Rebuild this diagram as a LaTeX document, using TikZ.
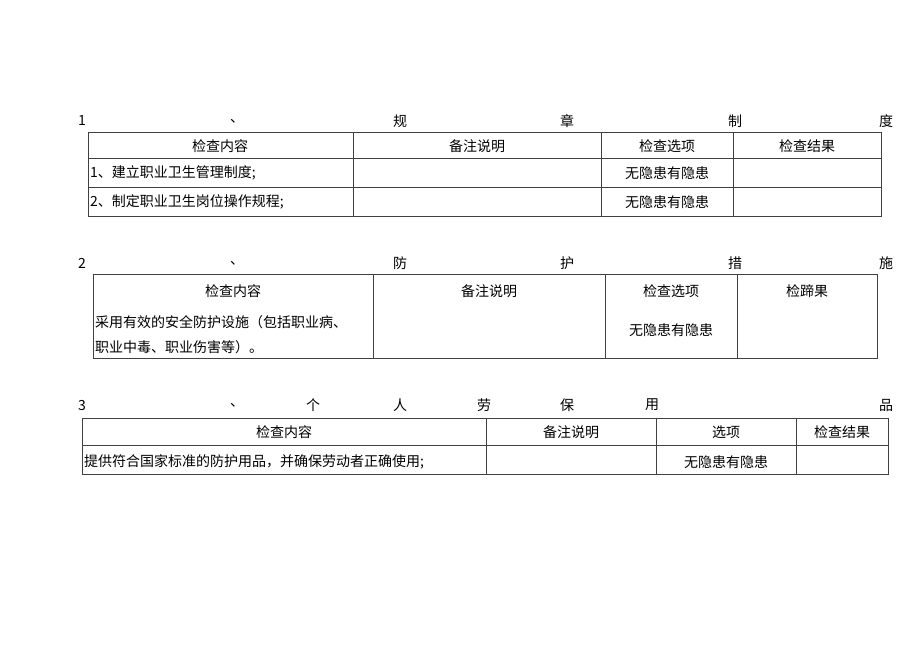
\documentclass[tikz,border=0pt]{standalone}
\usepackage{fontspec}
\setmainfont{Liberation Sans}
\newfontfamily\cjk{Noto Sans CJK SC}
\begin{document}
\begin{tikzpicture}[x=1pt,y=-1pt,
  t/.style={font=\cjk\fontsize{14}{16}\selectfont,inner sep=0pt},
  tl/.style={t,anchor=west},
  ln/.style={draw=black!75,line width=0.6pt}]
\useasboundingbox (0,0) rectangle (920,651);
% Table 1
\foreach \x/\s [count=\i] in {82/1,237/、,400/规,567/章,735/制,886/度} \node[t] (a\i) at (\x,121) {\s};
\draw[ln] (88,132) rectangle (881,216);
\draw[ln] (88,158) -- (881,158) (88,187) -- (881,187);
\draw[ln] (353,132) -- (353,216) (601,132) -- (601,216) (733,132) -- (733,216);
\node[t] (h11) at (220,146) {检查内容};
\node[t] (h12) at (477,146) {备注说明};
\node[t] (h13) at (667,146) {检查选项};
\node[t] (h14) at (807,146) {检查结果};
\node[tl] (r11) at (90,173) {1、建立职业卫生管理制度;};
\node[t] (o11) at (667,173) {无隐患有隐患};
\node[tl] (r12) at (90,202) {2、制定职业卫生岗位操作规程;};
\node[t] (o12) at (667,202) {无隐患有隐患};
% Table 2
\foreach \x/\s [count=\i] in {82/2,237/、,400/防,567/护,735/措,886/施} \node[t] (b\i) at (\x,263) {\s};
\draw[ln] (93,274) rectangle (877,358);
\draw[ln] (373,274) -- (373,358) (605,274) -- (605,358) (737,274) -- (737,358);
\node[t] (h21) at (233,291) {检查内容};
\node[t] (h22) at (489,291) {备注说明};
\node[t] (h23) at (671,291) {检查选项};
\node[t] (h24) at (807,291) {检蹄果};
\node[tl] (r21) at (95,322) {采用有效的安全防护设施（包括职业病、};
\node[tl] (r22) at (95,347) {职业中毒、职业伤害等）。};
\node[t] (o21) at (671,330) {无隐患有隐患};
% Table 3
\foreach \x/\s [count=\i] in {82/3,237/、,313/个,400/人,484/劳,567/保,652/用,886/品} \node[t] (c\i) at (\x,405) {\s};
\draw[ln] (82,418) rectangle (888,474);
\draw[ln] (82,445) -- (888,445);
\draw[ln] (486,418) -- (486,474) (656,418) -- (656,474) (796,418) -- (796,474);
\node[t] (h31) at (284,432) {检查内容};
\node[t] (h32) at (571,432) {备注说明};
\node[t] (h33) at (726,432) {选项};
\node[t] (h34) at (842,432) {检查结果};
\node[tl] (r31) at (84,462) {提供符合国家标准的防护用品，并确保劳动者正确使用;};
\node[t] (o31) at (726,462) {无隐患有隐患};
\end{tikzpicture}
\end{document}
